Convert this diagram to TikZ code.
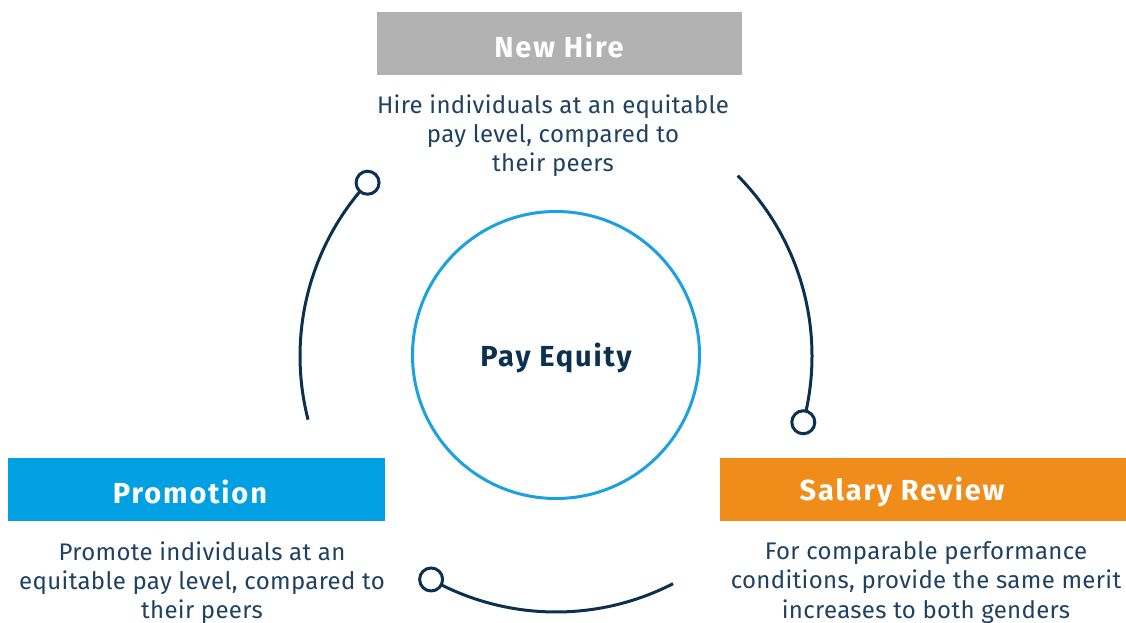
\documentclass[tikz,border=0pt]{standalone}
\usepackage{fontspec}
\setmainfont{Fira Sans}
\usetikzlibrary{calc}
\definecolor{navy}{HTML}{0C3050}
\definecolor{txtnavy}{HTML}{1F4262}
\definecolor{boxgray}{HTML}{B2B2B2}
\definecolor{boxorange}{HTML}{F08C1A}
\definecolor{boxblue}{HTML}{00A0E3}
\definecolor{ringblue}{HTML}{1BA1E2}
\tikzset{
  headbox/.style={draw=none, minimum height=63pt, inner sep=0pt},
  headtext/.style={text=white, font=\fontsize{29}{32}\selectfont\bfseries\addfontfeature{LetterSpace=6.5}, anchor=center},
  desc/.style={text=txtnavy, font=\fontsize{24}{29.2}\selectfont\addfontfeature{LetterSpace=1.4}, align=center, inner sep=0pt},
  arcline/.style={draw=navy, line width=3pt},
  knob/.style={circle, draw=navy, fill=white, line width=3pt, minimum size=23pt, inner sep=0pt},
}
\begin{document}
\begin{tikzpicture}[x=1pt,y=-1pt]
\useasboundingbox (0,0) rectangle (1126,623);
\fill[white] (0,0) rectangle (1126,623);
% boxes
\node[headbox, fill=boxgray, minimum width=365pt] (nhbox) at (559.5,43.5) {};
\node[headtext] (nhtext) at (559,46) {New Hire};
\node[headbox, fill=boxorange, minimum width=406pt] (srbox) at (923,489.5) {};
\node[headtext] (srtext) at (902,492) {Salary Review};
\node[headbox, fill=boxblue, minimum width=377pt] (prbox) at (196.5,489.5) {};
\node[headtext] (prtext) at (190,492) {Promotion};
% descriptions
\node[desc, anchor=north] (nhdesc) at (553,94.5) {Hire individuals at an equitable\\pay level, compared to\\their peers};
\node[desc, anchor=north] (srdesc) at (926,541.5) {For comparable performance\\conditions, provide the same merit\\increases to both genders};
\node[desc, anchor=north] (prdesc) at (202,541.5) {Promote individuals at an\\equitable pay level, compared to\\their peers};
% central circle
\coordinate (C) at (556,356);
\node[circle, draw=ringblue, line width=3pt, minimum size=287pt, inner sep=0pt] (ring) at (556,355) {};
\node[text=navy, font=\fontsize{29}{32}\selectfont\bfseries\addfontfeature{LetterSpace=6.5}] (pe) at (556,358) {Pay Equity};
% arcs
\coordinate (lA) at ($(C)+(-137.4:256)$);
\coordinate (rA) at ($(C)+(-44.8:256)$);
\coordinate (bA) at ($(C)+(-240.8:256)$);
\draw[arcline] (lA) arc[start angle=-137.4, end angle=-194.4, radius=256] coordinate (lB);
\draw[arcline] (rA) arc[start angle=-44.8, end angle=15, radius=256] coordinate (rB);
\draw[arcline] (bA) arc[start angle=-240.8, end angle=-297.2, radius=256] coordinate (bB);
\node[knob] (lK) at (lA) {};
\node[knob] (rK) at (rB) {};
\node[knob] (bK) at (bA) {};
\end{tikzpicture}
\end{document}
